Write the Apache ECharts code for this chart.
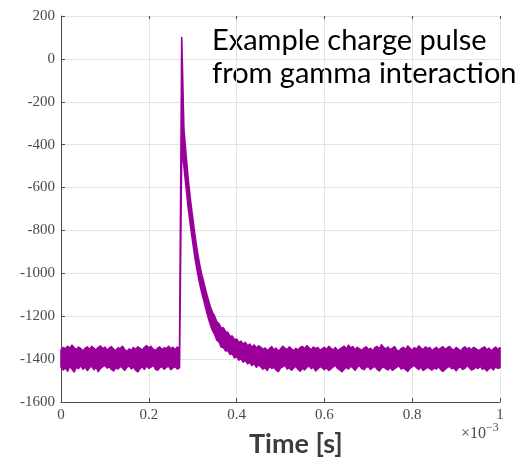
<!DOCTYPE html>
<html>
<head>
<meta charset="utf-8">
<script src="https://cdn.jsdelivr.net/npm/echarts@6/dist/echarts.min.js"></script>
<style>
  html, body { margin: 0; padding: 0; background: #fff; }
  #chart { width: 531px; height: 461px; }
</style>
</head>
<body>
<div id="chart"></div>
<script>
// ---- data ----
const sampleStepSeconds = 5e-6; // one sample every 5 µs, 0 .. 1 ms
const xTickLabels = ['0', '0.2', '0.4', '0.6', '0.8', '1'];
const yTickLabels = ['200', '0', '-200', '-400', '-600', '-800', '-1000', '-1200', '-1400', '-1600'];

// upper / lower edges of the noisy trace at each sample
const baselineUpperBefore = [-1358,-1346,-1353,-1340,-1349,-1335,-1347,-1356,-1344,-1351,
  -1362,-1349,-1343,-1355,-1341,-1350,-1357,-1345,-1339,-1352,
  -1344,-1358,-1348,-1342,-1354,-1361,-1347,-1352,-1340,-1356,
  -1365,-1353,-1360,-1346,-1355,-1343,-1350,-1359,-1345,-1337,
  -1348,-1341,-1354,-1360,-1349,-1343,-1356,-1347,-1352,-1340,
  -1351,-1345,-1357,-1344,-1349];
const baselineLowerBefore = [-1437,-1450,-1441,-1456,-1433,-1446,-1460,-1438,-1444,-1430,
  -1447,-1436,-1453,-1440,-1432,-1449,-1437,-1458,-1443,-1435,
  -1429,-1442,-1436,-1448,-1455,-1439,-1446,-1433,-1441,-1452,
  -1438,-1430,-1445,-1437,-1451,-1459,-1444,-1435,-1448,-1431,
  -1443,-1437,-1428,-1446,-1452,-1440,-1434,-1447,-1438,-1431,
  -1449,-1441,-1435,-1446,-1439];
const pulsePeakUpper = [100];
const pulsePeakLower = [-420];
const decayUpper = [-330,-450,-565,-660,-740,-820,-890,-950,-1000,-1040,
  -1082,-1120,-1155,-1182,-1200,-1226,-1236,-1256,-1254,-1272,
  -1276,-1294,-1292,-1310,-1306,-1322,-1316,-1330,-1322,-1339,
  -1330,-1344,-1334,-1349,-1338];
const decayLower = [-500,-600,-700,-780,-855,-925,-985,-1040,-1085,-1125,
  -1165,-1205,-1238,-1266,-1284,-1312,-1320,-1344,-1346,-1362,
  -1360,-1378,-1374,-1394,-1388,-1405,-1398,-1414,-1406,-1422,
  -1414,-1430,-1420,-1438,-1427];
const baselineUpperAfter = [-1344,-1355,-1348,-1360,-1351,-1342,-1357,-1349,-1363,-1353,
  -1340,-1349,-1356,-1343,-1352,-1362,-1350,-1358,-1346,-1341,
  -1353,-1337,-1348,-1357,-1344,-1351,-1346,-1359,-1352,-1345,
  -1355,-1341,-1350,-1358,-1346,-1361,-1354,-1347,-1340,-1352,
  -1335,-1348,-1342,-1356,-1345,-1353,-1360,-1349,-1343,-1355,
  -1350,-1362,-1347,-1341,-1353,-1333,-1346,-1352,-1344,-1357,
  -1349,-1342,-1358,-1363,-1351,-1345,-1356,-1339,-1350,-1359,
  -1347,-1354,-1338,-1349,-1356,-1343,-1351,-1346,-1360,-1352,
  -1345,-1357,-1349,-1342,-1355,-1348,-1341,-1353,-1359,-1346,
  -1352,-1364,-1350,-1343,-1354,-1347,-1358,-1345,-1351,-1360,
  -1356,-1348,-1343,-1357,-1349,-1361,-1352,-1344,-1355,-1347];
const baselineLowerAfter = [-1435,-1447,-1440,-1453,-1432,-1444,-1438,-1451,-1458,-1442,
  -1436,-1428,-1446,-1439,-1452,-1441,-1433,-1448,-1456,-1443,
  -1450,-1438,-1431,-1444,-1437,-1455,-1446,-1434,-1441,-1449,
  -1440,-1453,-1445,-1436,-1429,-1443,-1450,-1459,-1447,-1438,
  -1446,-1432,-1441,-1452,-1437,-1430,-1444,-1449,-1438,-1434,
  -1448,-1440,-1433,-1447,-1455,-1442,-1436,-1445,-1450,-1439,
  -1452,-1444,-1437,-1431,-1446,-1440,-1449,-1457,-1443,-1435,
  -1429,-1441,-1448,-1436,-1453,-1445,-1438,-1444,-1451,-1440,
  -1446,-1435,-1449,-1457,-1447,-1439,-1432,-1445,-1440,-1454,
  -1441,-1436,-1448,-1443,-1430,-1439,-1451,-1446,-1437,-1444,
  -1432,-1447,-1441,-1455,-1445,-1438,-1450,-1436,-1443,-1440];

const upperEdge = [].concat(baselineUpperBefore, pulsePeakUpper, decayUpper, baselineUpperAfter);
const lowerEdge = [].concat(baselineLowerBefore, pulsePeakLower, decayLower, baselineLowerAfter);

// band data: [time, upper, lower]
const bandData = upperEdge.map(function (u, k) { return [k * sampleStepSeconds, u, lowerEdge[k]]; });

const traceColor = '#990099';
const axisColor = '#4a4a4a';
const labelFont = { fontFamily: 'Liberation Serif', fontSize: 15, color: '#4a4a4a' };
const chart = echarts.init(document.getElementById('chart'), null, { renderer: 'canvas' });
chart.setOption({
  animation: false,
  backgroundColor: '#ffffff',
  grid: { left: 61, right: 31, top: 16, bottom: 59, containLabel: false },
  xAxis: [{
    type: 'value', min: 0, max: 0.001, interval: 0.0002,
    axisLine: { show: true, onZero: false, lineStyle: { color: axisColor, width: 1 } },
    axisTick: { show: true, inside: true, length: 4, lineStyle: { color: axisColor } },
    splitLine: { show: true, lineStyle: { color: '#e3e3e3', width: 1 } },
    axisLabel: Object.assign({ margin: 6, formatter: function (v) { return xTickLabels[Math.round(v / 0.0002)]; } }, labelFont)
  }, {
    type: 'value', position: 'top', min: 0, max: 0.001, interval: 0.0002,
    axisLine: { show: false, onZero: false },
    axisTick: { show: true, inside: true, length: 3, lineStyle: { color: axisColor } },
    splitLine: { show: false }, axisLabel: { show: false }
  }],
  yAxis: {
    type: 'value', min: -1600, max: 200, interval: 200,
    axisLine: { show: true, onZero: false, lineStyle: { color: axisColor, width: 1 } },
    axisTick: { show: true, inside: true, length: 4, lineStyle: { color: axisColor } },
    splitLine: { show: true, lineStyle: { color: '#e3e3e3', width: 1 } },
    axisLabel: Object.assign({ margin: 6, formatter: function (v) { return yTickLabels[Math.round((200 - v) / 200)]; } }, labelFont)
  },
  series: [{
    type: 'custom',
    data: bandData,
    encode: { x: 0, y: [1, 2] },
    z: 3,
    renderItem: function (params, api) {
      if (params.dataIndex !== 0) { return null; }
      const top = [], bottom = [];
      for (let k = 0; k < bandData.length; k++) {
        top.push(api.coord([bandData[k][0], bandData[k][1]]));
        bottom.push(api.coord([bandData[k][0], bandData[k][2]]));
      }
      const pts = top.concat(bottom.reverse());
      return {
        type: 'polygon',
        shape: { points: pts },
        style: { fill: traceColor, stroke: traceColor, lineWidth: 1.6, lineJoin: 'round' }
      };
    }
  }],
  graphic: [
    { type: 'text', left: 212, top: 26, style: { text: 'Example charge pulse', font: '29px Lato', fill: '#000' } },
    { type: 'text', left: 212, top: 59, style: { text: 'from gamma interaction', font: '29px Lato', fill: '#000' } },
    { type: 'text', left: 249, top: 431, style: { text: 'Time [s]', font: 'bold 27px Lato', fill: '#3d3d3d' } },
    { type: 'text', left: 461, top: 422, style: {
        text: '{a|×10}{b|−3}',
        rich: {
          a: { fontFamily: 'Liberation Serif', fontSize: 16, fill: '#4a4a4a', color: '#4a4a4a', verticalAlign: 'bottom' },
          b: { fontFamily: 'Liberation Serif', fontSize: 12, fill: '#4a4a4a', color: '#4a4a4a', verticalAlign: 'top', padding: [0, 0, 8, 0] }
        }
    } }
  ]
});
</script>
</body>
</html>
